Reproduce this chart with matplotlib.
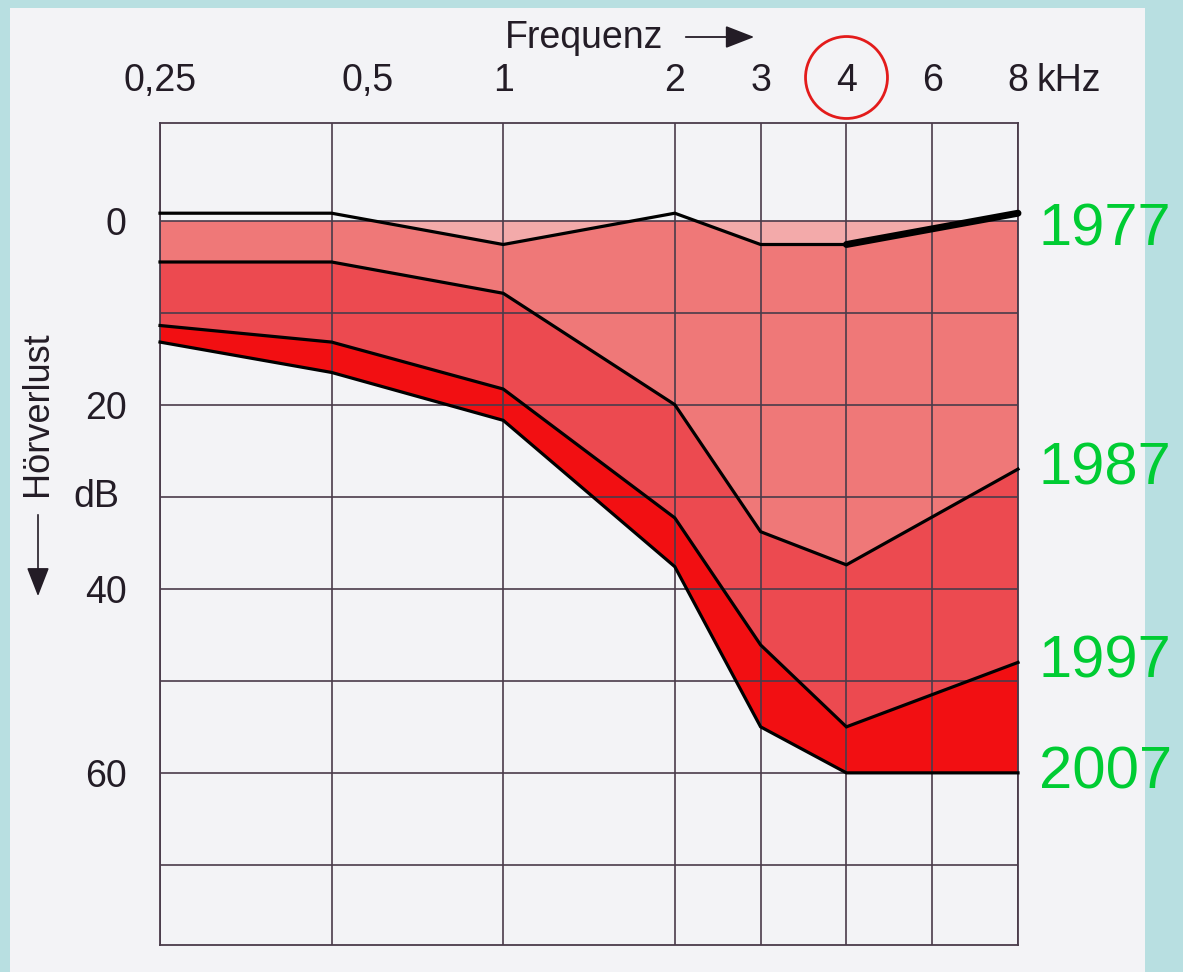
import matplotlib
matplotlib.use("Agg")
import matplotlib.pyplot as plt
import numpy as np
from matplotlib.transforms import blended_transform_factory, ScaledTranslation
from matplotlib.patches import Rectangle, FancyArrowPatch

# ---- data (hearing loss in dB per frequency in kHz) ----
freq = np.array([0.25, 0.5, 1, 2, 3, 4, 8])
loss_1977 = np.array([-0.8, -0.8, 2.6, -0.8, 2.6, 2.6, -0.8])
loss_1987 = np.array([4.5, 4.5, 7.9, 20.0, 33.8, 37.4, 27.0])
loss_1997 = np.array([11.4, 13.2, 18.3, 32.3, 46.1, 55.0, 48.0])
loss_2007 = np.array([13.2, 16.5, 21.7, 37.6, 55.0, 60.0, 60.0])
years = ["1977", "1987", "1997", "2007"]

tick_freqs = [0.25, 0.5, 1, 2, 3, 4, 6, 8]
tick_labels = ["0,25", "0,5", "1", "2", "3", "4", "6", "8"]
db_major = [0, 20, 40, 60]
db_minor = [10, 30, 50, 70]

# ---- style ----
FONT = "Liberation Sans"
plt.rcParams["font.family"] = [FONT, "DejaVu Sans"]
PAGE = "#f3f3f6"
BORDER = "#b8dfe1"
GRID = "#4a3b4a"
TXT = "#231c26"
GREEN = "#00cc33"

fig = plt.figure(figsize=(11.83, 9.72), dpi=100, facecolor=BORDER)
page = Rectangle((10 / 1183, 0), 1135 / 1183, 964 / 972,
                 transform=fig.transFigure, facecolor=PAGE,
                 edgecolor="none", zorder=-10)
fig.add_artist(page)

ax = fig.add_axes([160 / 1183, 1 - 945 / 972, (1018 - 160) / 1183, (945 - 123) / 972])
ax.set_facecolor(PAGE)

# audiogram x-scale: octaves equidistant, 3 and 6 kHz half-way
oct_f = [0.25, 0.5, 1, 2, 4, 8]
oct_p = [0, 1, 2, 3, 4, 5]
ax.set_xscale("function", functions=(lambda f: np.interp(f, oct_f, oct_p),
                                     lambda p: np.interp(p, oct_p, oct_f)))
ax.set_xlim(0.25, 8)
ax.set_ylim(78.7, -10.6)

# fills
ax.fill_between(freq, 0, loss_1987, color="#ef7878", lw=0, zorder=1)
ax.fill_between(freq, 0, loss_1977, where=loss_1977 > 0, interpolate=True,
                color="#f3aaaa", lw=0, zorder=1.1)
ax.fill_between(freq, loss_1987, loss_1997, color="#ec4a50", lw=0, zorder=1)
ax.fill_between(freq, loss_1997, loss_2007, color="#f20f12", lw=0, zorder=1)

# lines
for vals in (loss_1977, loss_1987, loss_1997, loss_2007):
    ax.plot(freq, vals, color="black", lw=2.3, zorder=3, solid_joinstyle="miter",
            clip_on=False)
ax.plot(freq[-2:], loss_1977[-2:], color="black", lw=5, zorder=3,
        solid_capstyle="round", clip_on=False)

# grid / ticks
ax.set_xticks(tick_freqs)
ax.set_xticklabels(tick_labels)
ax.set_yticks(db_major)
ax.set_yticks(db_minor, minor=True)
ax.set_yticklabels([str(v) for v in db_major])
ax.xaxis.tick_top()
ax.tick_params(axis="x", which="both", length=0, pad=17, labelsize=27, labelcolor=TXT)
ax.tick_params(axis="y", which="both", length=0, pad=24, labelsize=27, labelcolor=TXT)
ax.grid(True, which="both", color=GRID, lw=1.2, zorder=2)
ax.set_axisbelow(False)
for s in ax.spines.values():
    s.set_color(GRID)
    s.set_linewidth(1.3)

# shift "0,5" label as in the original print
lab = ax.get_xticklabels()[1]
lab.set_transform(lab.get_transform() + ScaledTranslation(0.36, 0, fig.dpi_scale_trans))

top_tr = blended_transform_factory(ax.transData, ax.transAxes)
ax.annotate("kHz", xy=(8, 1.0), xycoords=top_tr, xytext=(13, 17),
            textcoords="offset points", fontsize=27, color=TXT, ha="left",
            va="bottom", annotation_clip=False)

# red circle around 4 kHz
ax.plot([4], [1.056], transform=top_tr, marker="o", ms=59, mfc="none",
        mec="#e31b1b", mew=2.0, clip_on=False, zorder=5)

# axis titles
fig.text(505 / 1183, 1 - 38 / 972, "Frequenz", fontsize=27, color=TXT,
         ha="left", va="center")
fig.add_artist(FancyArrowPatch(
    (683 / 1183, 1 - 37 / 972), (757 / 1183, 1 - 37 / 972),
    transform=fig.transFigure, arrowstyle="-|>,head_length=0.9,head_width=0.35",
    mutation_scale=20, color=TXT, lw=1.3))
fig.text(38 / 1183, 1 - 414 / 972, "Hörverlust", fontsize=26, color=TXT,
         rotation=90, ha="center", va="center")
fig.text(96 / 1183, 1 - 497 / 972, "dB", fontsize=27, color=TXT,
         ha="center", va="center")
fig.add_artist(FancyArrowPatch(
    (38 / 1183, 1 - 512 / 972), (38 / 1183, 1 - 599 / 972),
    transform=fig.transFigure, arrowstyle="-|>,head_length=0.9,head_width=0.35",
    mutation_scale=20, color=TXT, lw=1.2))

# year labels at right end of each curve
ends = [loss_1977[-1], loss_1987[-1], loss_1997[-1], loss_2007[-1]]
dys = [-12, 0, 0, 0]
for yr, yv, dy in zip(years, ends, dys):
    ax.annotate(yr, xy=(8, yv), xytext=(15, dy), textcoords="offset points",
                fontsize=43, color=GREEN, ha="left", va="center",
                annotation_clip=False, zorder=6)

fig.savefig("out.png", dpi=100, facecolor=BORDER)
